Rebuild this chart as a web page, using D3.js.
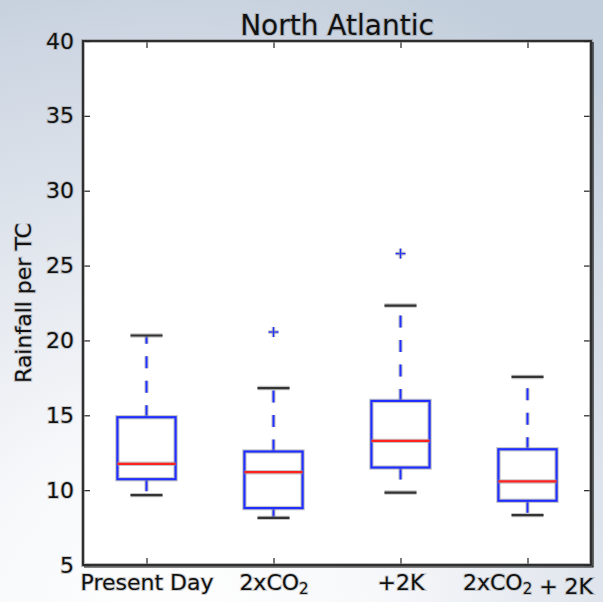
<!DOCTYPE html>
<html>
<head>
<meta charset="utf-8">
<script src="https://cdn.jsdelivr.net/npm/d3@7"></script>
<style>
  html, body { margin: 0; padding: 0; }
  svg { display: block; }
  text { font-family: "DejaVu Sans", sans-serif; fill: #111; }
</style>
</head>
<body>
<svg id="chart" width="603" height="602"></svg>
<script>
// Rainfall per tropical cyclone, North Atlantic, for four climate experiments
const categories = ["Present Day", "2xCO$_2$", "+2K", "2xCO$_2$ + 2K"];
const whiskerLow = [9.67, 8.15, 9.84, 8.33];
const quartile1 = [10.73, 8.8, 11.51, 9.29];
const medians = [11.76, 11.2, 13.29, 10.58];
const quartile3 = [14.87, 12.58, 15.96, 12.73];
const whiskerHigh = [20.33, 16.82, 22.33, 17.56];
const outliers = [[], [20.56], [25.8], []];
const yTicks = [5, 10, 15, 20, 25, 30, 35, 40];
const title = "North Atlantic";
const yLabel = "Rainfall per TC";

const W = 603, H = 602;
const plot = { left: 83, right: 591, top: 41, bottom: 565 };

const svg = d3.select("#chart");

// soft slide-style backdrop
const defs = svg.append("defs");
const grad = defs.append("radialGradient")
  .attr("id", "bg").attr("gradientUnits", "userSpaceOnUse")
  .attr("cx", 170).attr("cy", 640).attr("r", 700);
grad.append("stop").attr("offset", 0).attr("stop-color", "#ffffff");
grad.append("stop").attr("offset", 0.3).attr("stop-color", "#f7f8fa");
grad.append("stop").attr("offset", 0.75).attr("stop-color", "#d6dde7");
grad.append("stop").attr("offset", 1).attr("stop-color", "#c3cedc");
svg.append("rect").attr("width", W).attr("height", H).attr("fill", "url(#bg)");

const x = d3.scaleLinear().domain([0.5, categories.length + 0.5]).range([plot.left, plot.right]);
const y = d3.scaleLinear().domain([5, 40]).range([plot.bottom, plot.top]);

const boxHalf = 0.229;   // half box width in category units
const capHalf = 0.126;   // half cap width

// plot area
svg.append("rect")
  .attr("x", plot.left).attr("y", plot.top)
  .attr("width", plot.right - plot.left).attr("height", plot.bottom - plot.top)
  .attr("fill", "#fff");

const halo = "rgba(150,150,150,0.55)";

// draws a line with a faint grey halo beneath it
function haloLine(g, x1, y1, x2, y2, color, width, dash) {
  const a = g.append("line").attr("x1", x1).attr("y1", y1).attr("x2", x2).attr("y2", y2)
    .attr("stroke", halo).attr("stroke-width", width + 2.2);
  const b = g.append("line").attr("x1", x1).attr("y1", y1).attr("x2", x2).attr("y2", y2)
    .attr("stroke", color).attr("stroke-width", width);
  if (dash) { a.attr("stroke-dasharray", dash); b.attr("stroke-dasharray", dash); }
}

const boxes = svg.append("g");
const blue = "#1f2eff", red = "#ff2020", dark = "#333";
const whiskerDash = "12,12.5";

categories.forEach((c, i) => {
  const cx = x(i + 1);
  const g = boxes.append("g");
  // whiskers, dashed outward from the box
  haloLine(g, cx, y(quartile3[i]), cx, y(whiskerHigh[i]), blue, 2, whiskerDash);
  haloLine(g, cx, y(quartile1[i]), cx, y(whiskerLow[i]), blue, 2, whiskerDash);
  // caps
  haloLine(g, x(i + 1 - capHalf), y(whiskerHigh[i]), x(i + 1 + capHalf), y(whiskerHigh[i]), dark, 2.2);
  haloLine(g, x(i + 1 - capHalf), y(whiskerLow[i]), x(i + 1 + capHalf), y(whiskerLow[i]), dark, 2.2);
  // box
  const bx = x(i + 1 - boxHalf), bw = x(i + 1 + boxHalf) - bx;
  const by = y(quartile3[i]), bh = y(quartile1[i]) - by;
  g.append("rect").attr("x", bx).attr("y", by).attr("width", bw).attr("height", bh)
    .attr("fill", "none").attr("stroke", halo).attr("stroke-width", 4.4);
  g.append("rect").attr("x", bx).attr("y", by).attr("width", bw).attr("height", bh)
    .attr("fill", "none").attr("stroke", blue).attr("stroke-width", 2.2);
  // median
  haloLine(g, x(i + 1 - boxHalf), y(medians[i]), x(i + 1 + boxHalf), y(medians[i]), red, 2.2);
  // fliers
  outliers[i].forEach(v => {
    haloLine(g, cx - 5, y(v), cx + 5, y(v), blue, 1.4);
    haloLine(g, cx, y(v) - 5, cx, y(v) + 5, blue, 1.4);
  });
});

// axes: inward ticks on all four sides
const textHalo = sel => sel.style("stroke", "rgba(120,120,120,0.35)").style("stroke-width", 2.2)
  .style("paint-order", "stroke").style("fill", "#111");

const leftAxis = svg.append("g").attr("transform", `translate(${plot.left},0)`)
  .call(d3.axisLeft(y).tickValues(yTicks).tickSize(-7).tickPadding(9).tickFormat(d3.format("d")));
leftAxis.selectAll("text").style("font-size", "22px").call(textHalo);

const rightAxis = svg.append("g").attr("transform", `translate(${plot.right},0)`)
  .call(d3.axisRight(y).tickValues(yTicks).tickSize(-7).tickFormat(""));

const topAxis = svg.append("g").attr("transform", `translate(0,${plot.top})`)
  .call(d3.axisTop(x).tickValues(d3.range(1, categories.length + 1)).tickSize(-7).tickFormat(""));

const bottomAxis = svg.append("g").attr("transform", `translate(0,${plot.bottom})`)
  .call(d3.axisBottom(x).tickValues(d3.range(1, categories.length + 1)).tickSize(-7).tickPadding(9.5)
    .tickFormat((d) => categories[d - 1]));

// category labels, with $_2$ rendered as a subscript
bottomAxis.selectAll(".tick text").each(function (d) {
  const t = d3.select(this);
  const parts = categories[d - 1].split(/\$_(\w)\$/);
  t.text(null).style("font-size", "22px").call(textHalo);
  parts.forEach((p, k) => {
    if (!p) return;
    if (k % 2 === 1) {
      t.append("tspan").attr("dy", "0.28em").style("font-size", "15px").text(p);
      t.append("tspan").attr("dy", "-0.28em").text("");
    } else {
      t.append("tspan").text(p);
    }
  });
});

[leftAxis, rightAxis, topAxis, bottomAxis].forEach(a => {
  a.select(".domain").remove();
  a.selectAll(".tick line").attr("stroke", "#333").attr("stroke-width", 1.3);
});

// frame
svg.append("rect")
  .attr("x", plot.left).attr("y", plot.top)
  .attr("width", plot.right - plot.left).attr("height", plot.bottom - plot.top)
  .attr("fill", "none").attr("stroke", "rgba(140,140,140,0.6)").attr("stroke-width", 4);
svg.append("rect")
  .attr("x", plot.left).attr("y", plot.top)
  .attr("width", plot.right - plot.left).attr("height", plot.bottom - plot.top)
  .attr("fill", "none").attr("stroke", "#222").attr("stroke-width", 1.8);
// slight drop shadow on the right and bottom edges
svg.append("path")
  .attr("d", `M${plot.right + 2},${plot.top + 1}V${plot.bottom + 2}H${plot.left + 1}`)
  .attr("fill", "none").attr("stroke", "#111").attr("stroke-width", 1.2);

// title
svg.append("text")
  .attr("x", (plot.left + plot.right) / 2).attr("y", 35)
  .attr("text-anchor", "middle").style("font-size", "28px")
  .text(title).call(textHalo);

// y-axis label
svg.append("text")
  .attr("transform", `translate(31,${(plot.top + plot.bottom) / 2}) rotate(-90)`)
  .attr("text-anchor", "middle").style("font-size", "22px")
  .text(yLabel).call(textHalo);
</script>
</body>
</html>
